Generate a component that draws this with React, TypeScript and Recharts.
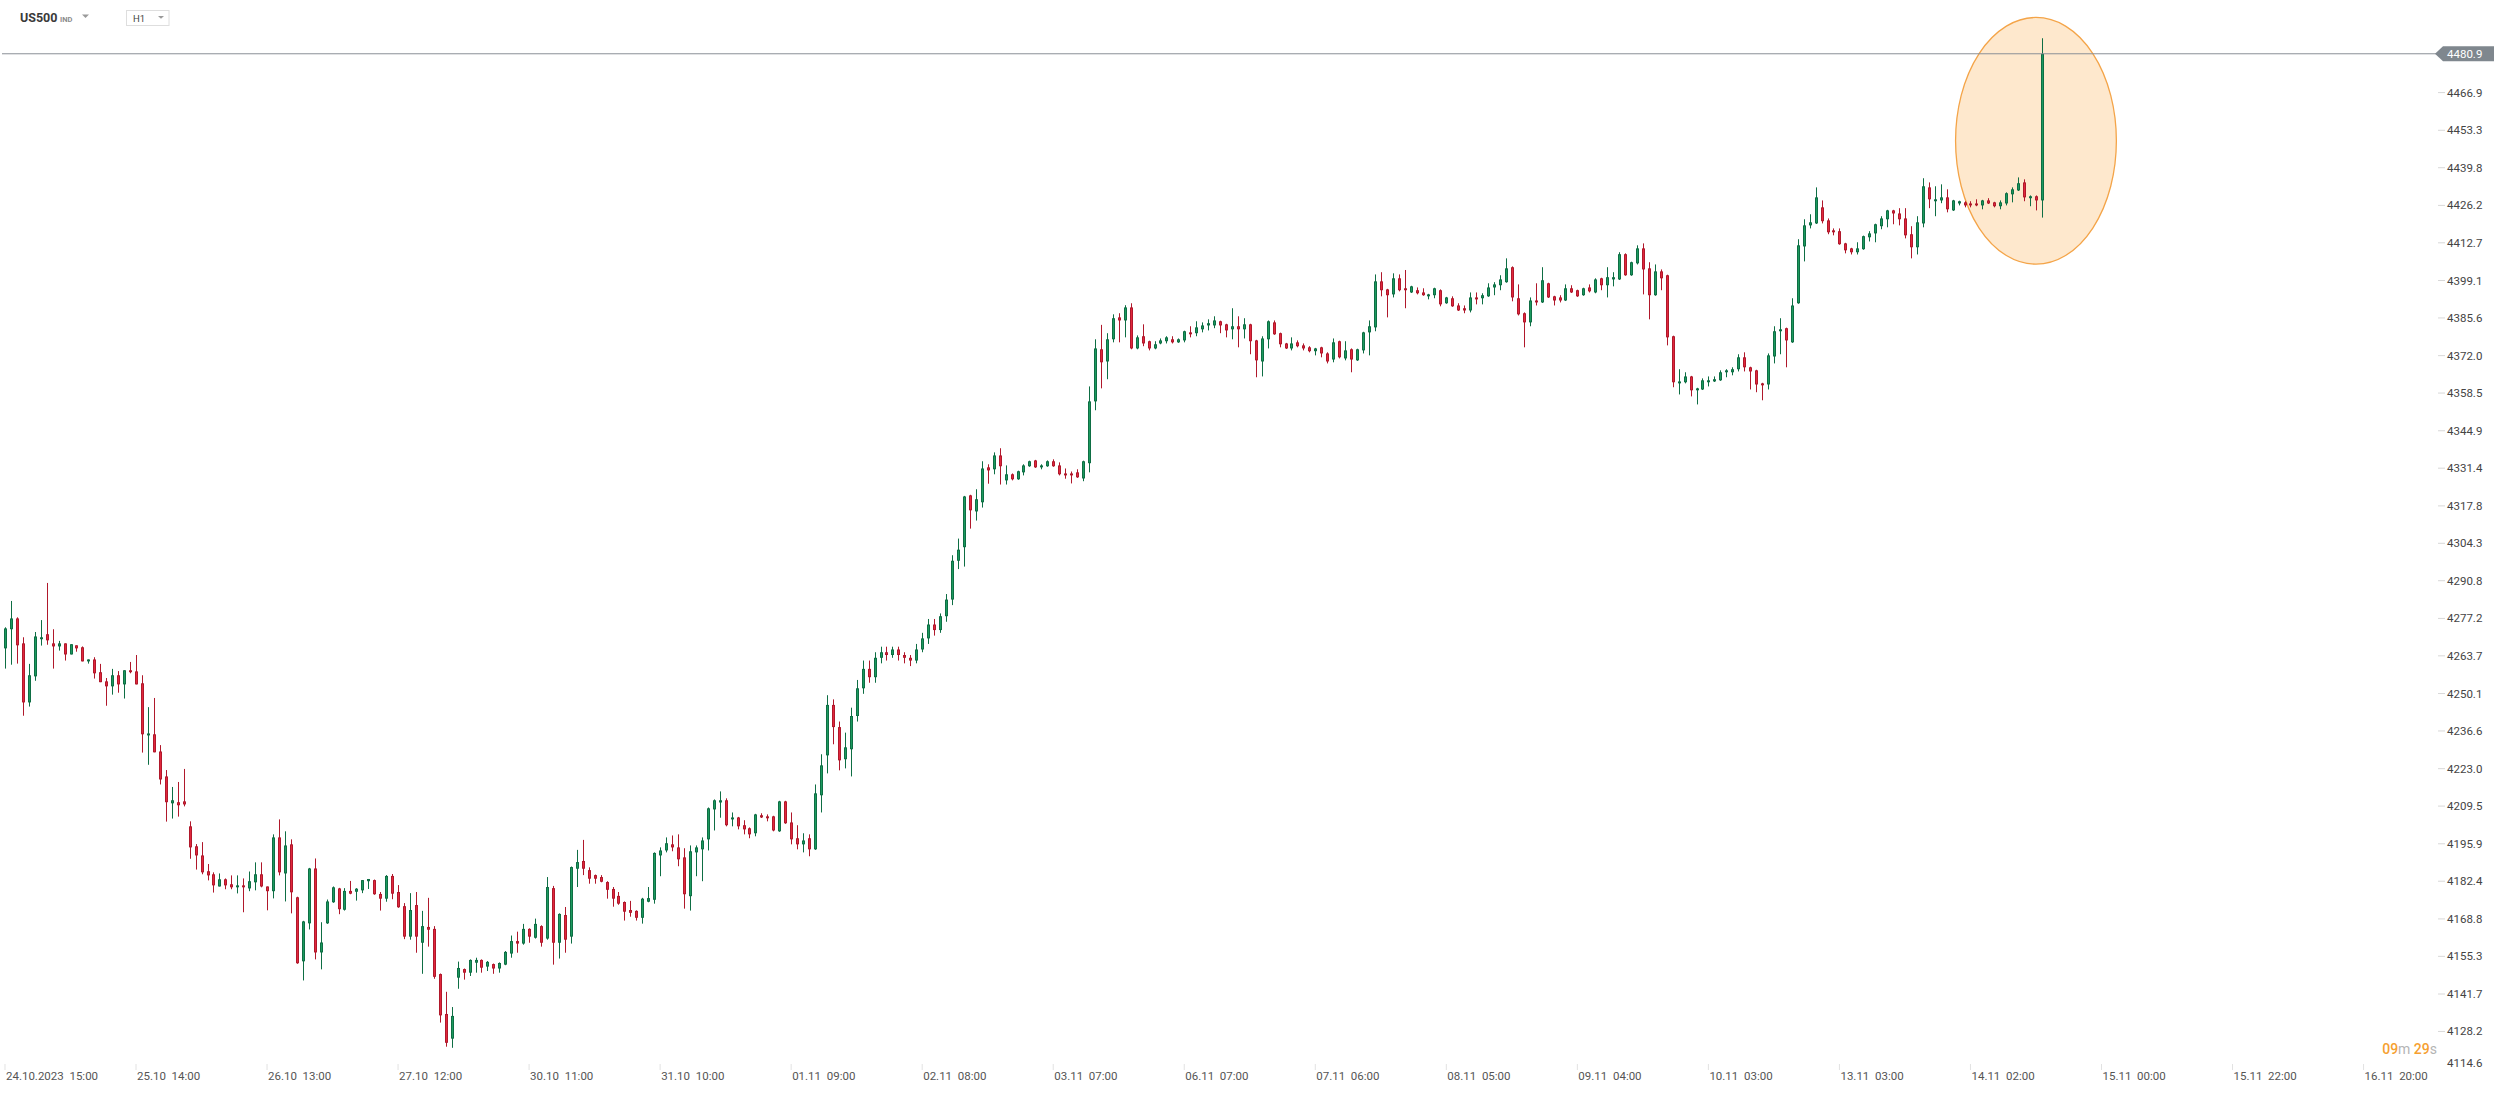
import React from 'react';
import { ComposedChart, Bar, XAxis, YAxis, ReferenceLine, ReferenceArea } from 'recharts';

const opens = [
  4266.4, 4273.3, 4277.2, 4268.2, 4246.9, 4256.3, 4269.7, 4271.5, 4268.2, 4267.1,
  4268.2, 4264.2, 4267.5, 4266.8, 4261.7, 4262.4, 4257.8, 4254.5, 4252.7, 4256.7,
  4253.4, 4258.5, 4258.1, 4253.8, 4235.0, 4235.4, 4229.2, 4220.2, 4210.5, 4210.9,
  4211.2, 4202.2, 4195.0, 4191.7, 4186.0, 4184.9, 4180.5, 4183.1, 4181.3, 4180.2,
  4180.9, 4179.8, 4182.0, 4184.9, 4180.5, 4178.8, 4198.2, 4185.2, 4195.7, 4176.6,
  4153.5, 4167.2, 4187.0, 4156.7, 4167.2, 4174.8, 4179.8, 4172.1, 4178.9, 4178.6,
  4179.1, 4182.4, 4182.8, 4177.8, 4176.1, 4184.3, 4178.5, 4173.4, 4162.4, 4173.8,
  4160.2, 4165.9, 4165.2, 4148.9, 4134.5, 4125.6, 4147.6, 4150.7, 4149.4, 4153.0,
  4154.0, 4151.6, 4152.5, 4150.9, 4152.3, 4156.3, 4160.8, 4159.9, 4165.2, 4162.0,
  4166.2, 4161.7, 4179.9, 4160.2, 4170.2, 4162.4, 4186.9, 4189.7, 4186.4, 4184.6,
  4183.9, 4182.1, 4179.6, 4177.1, 4174.9, 4172.0, 4171.7, 4169.2, 4175.0, 4175.7,
  4191.7, 4193.5, 4195.7, 4194.6, 4191.0, 4177.0, 4192.8, 4193.9, 4197.5, 4208.3,
  4210.8, 4211.6, 4204.7, 4205.4, 4202.6, 4201.5, 4199.7, 4206.2, 4205.8, 4205.8,
  4200.4, 4211.2, 4203.6, 4197.9, 4195.7, 4197.9, 4193.9, 4213.4, 4227.8, 4246.0,
  4238.0, 4226.4, 4230.0, 4242.0, 4252.0, 4259.0, 4256.0, 4263.0, 4265.0, 4264.0,
  4266.0, 4264.0, 4263.0, 4262.0, 4266.0, 4270.0, 4275.0, 4273.0, 4278.0, 4284.0,
  4298.0, 4302.9, 4321.6, 4315.8, 4319.1, 4331.7, 4331.0, 4336.0, 4327.0, 4329.2,
  4327.4, 4329.9, 4332.1, 4334.2, 4331.7, 4332.1, 4333.9, 4332.4, 4329.5, 4329.5,
  4329.9, 4327.7, 4333.2, 4355.5, 4374.3, 4369.9, 4377.9, 4385.8, 4384.7, 4389.4,
  4374.6, 4379.0, 4377.2, 4374.6, 4376.4, 4377.2, 4377.9, 4376.8, 4377.5, 4380.4,
  4380.1, 4381.5, 4382.9, 4382.9, 4384.4, 4383.3, 4381.5, 4382.6, 4381.5, 4383.3,
  4377.5, 4369.9, 4377.9, 4384.0, 4380.1, 4376.4, 4374.6, 4376.8, 4375.7, 4375.0,
  4373.6, 4375.0, 4372.8, 4370.6, 4377.2, 4371.0, 4374.3, 4370.3, 4373.9, 4380.4,
  4382.2, 4398.8, 4395.9, 4394.1, 4399.9, 4396.3, 4394.8, 4395.6, 4394.8, 4393.4,
  4393.8, 4395.6, 4390.9, 4392.7, 4390.1, 4389.1, 4388.3, 4393.0, 4392.7, 4393.4,
  4396.6, 4397.4, 4398.5, 4403.9, 4392.7, 4387.3, 4384.0, 4391.9, 4391.2, 4398.1,
  4393.4, 4393.0, 4391.9, 4396.3, 4395.6, 4393.8, 4396.6, 4394.8, 4399.9, 4397.4,
  4399.5, 4399.5, 4408.6, 4401.0, 4405.3, 4410.7, 4403.5, 4393.8, 4402.4, 4401.0,
  4379.0, 4362.0, 4362.4, 4364.5, 4359.5, 4359.8, 4362.4, 4362.7, 4363.1, 4366.0,
  4366.0, 4367.1, 4371.4, 4367.8, 4366.7, 4362.0, 4361.6, 4371.7, 4380.8, 4381.9,
  4376.8, 4390.9, 4411.4, 4419.0, 4419.7, 4425.5, 4420.8, 4417.2, 4416.9, 4412.5,
  4410.7, 4409.3, 4410.4, 4414.7, 4416.1, 4418.7, 4421.2, 4424.4, 4423.3, 4421.5,
  4415.8, 4411.1, 4419.7, 4432.7, 4427.7, 4428.0, 4429.1, 4424.4, 4426.9, 4427.3,
  4426.9, 4426.9, 4426.2, 4428.0, 4427.3, 4425.9, 4426.9, 4430.2, 4431.6, 4434.5,
  4428.8, 4429.5, 4428.0,
];

const highs = [
  4274.0, 4283.5, 4277.6, 4270.4, 4260.8, 4272.3, 4276.6, 4290.0, 4273.3, 4269.1,
  4268.2, 4267.9, 4267.5, 4267.1, 4262.4, 4263.2, 4260.8, 4255.7, 4259.0, 4258.2,
  4258.5, 4261.5, 4264.0, 4256.7, 4245.2, 4248.5, 4231.5, 4222.5, 4216.4, 4218.2,
  4222.9, 4204.0, 4195.8, 4196.5, 4188.6, 4185.6, 4185.2, 4183.4, 4184.5, 4184.5,
  4183.4, 4185.9, 4189.2, 4189.2, 4180.5, 4199.3, 4204.7, 4200.4, 4197.5, 4176.8,
  4168.1, 4187.2, 4190.6, 4167.6, 4175.8, 4180.5, 4180.0, 4179.9, 4182.5, 4179.9,
  4182.8, 4183.2, 4183.0, 4178.5, 4184.6, 4185.0, 4181.0, 4174.5, 4178.1, 4178.5,
  4171.7, 4176.4, 4166.2, 4149.1, 4142.5, 4137.0, 4153.4, 4150.9, 4154.2, 4154.8,
  4154.2, 4153.6, 4152.7, 4153.1, 4157.2, 4162.8, 4164.2, 4167.0, 4165.4, 4168.9,
  4166.5, 4183.9, 4180.7, 4170.8, 4173.1, 4187.7, 4193.7, 4197.3, 4187.4, 4184.8,
  4184.6, 4182.4, 4180.3, 4178.5, 4175.1, 4175.3, 4171.9, 4176.4, 4180.3, 4192.8,
  4194.6, 4198.2, 4198.9, 4199.3, 4194.3, 4195.3, 4195.3, 4198.2, 4209.0, 4211.9,
  4214.8, 4212.3, 4207.2, 4205.6, 4204.4, 4201.8, 4206.7, 4206.9, 4206.5, 4206.0,
  4211.4, 4211.4, 4207.2, 4202.6, 4199.7, 4199.3, 4217.3, 4228.2, 4249.5, 4248.0,
  4240.0, 4236.0, 4245.0, 4255.0, 4262.0, 4262.0, 4265.0, 4267.0, 4267.0, 4267.0,
  4267.0, 4265.0, 4264.0, 4268.0, 4272.0, 4277.0, 4277.0, 4279.0, 4286.0, 4300.0,
  4306.0, 4321.4, 4321.8, 4323.8, 4333.9, 4332.8, 4337.1, 4338.6, 4332.4, 4329.5,
  4330.5, 4332.8, 4334.1, 4334.4, 4332.8, 4334.2, 4334.6, 4333.5, 4331.3, 4330.2,
  4331.0, 4334.1, 4360.9, 4377.9, 4383.1, 4380.1, 4386.9, 4387.3, 4390.2, 4390.9,
  4379.3, 4383.3, 4377.4, 4377.2, 4378.2, 4379.0, 4379.0, 4378.2, 4381.0, 4382.6,
  4384.4, 4384.0, 4385.1, 4386.2, 4384.6, 4383.5, 4389.1, 4386.2, 4385.5, 4383.5,
  4377.7, 4379.0, 4384.7, 4384.7, 4380.3, 4376.6, 4378.6, 4377.5, 4376.4, 4375.4,
  4374.8, 4375.2, 4373.2, 4378.2, 4377.4, 4377.2, 4374.6, 4374.5, 4380.6, 4384.7,
  4401.3, 4402.1, 4396.1, 4401.7, 4401.3, 4402.9, 4397.2, 4396.6, 4396.3, 4394.3,
  4396.5, 4395.9, 4393.2, 4393.4, 4390.9, 4390.1, 4394.8, 4394.8, 4394.5, 4398.1,
  4398.5, 4401.0, 4407.1, 4404.2, 4397.7, 4387.6, 4393.0, 4398.1, 4403.9, 4398.3,
  4393.6, 4393.8, 4397.7, 4397.4, 4395.8, 4396.5, 4397.7, 4399.9, 4400.1, 4403.9,
  4402.1, 4409.3, 4408.9, 4405.9, 4411.8, 4412.5, 4405.7, 4404.9, 4403.1, 4401.2,
  4379.2, 4367.1, 4366.0, 4364.7, 4360.4, 4363.8, 4364.5, 4364.5, 4366.7, 4367.1,
  4367.8, 4372.5, 4373.2, 4368.0, 4366.9, 4362.2, 4372.8, 4382.6, 4385.5, 4382.1,
  4392.7, 4414.0, 4421.2, 4423.0, 4432.7, 4428.0, 4421.5, 4417.9, 4417.9, 4412.7,
  4410.9, 4412.9, 4415.3, 4416.9, 4419.6, 4422.3, 4424.6, 4424.6, 4425.2, 4425.2,
  4418.7, 4422.3, 4436.0, 4434.5, 4433.1, 4433.8, 4432.0, 4428.2, 4427.9, 4427.7,
  4427.7, 4428.4, 4428.2, 4428.8, 4427.5, 4428.0, 4430.9, 4432.7, 4436.3, 4435.6,
  4429.8, 4429.8, 4486.5,
];

const lows = [
  4259.1, 4260.5, 4260.9, 4242.1, 4245.4, 4254.7, 4267.4, 4267.7, 4259.1, 4265.6,
  4262.0, 4264.2, 4265.2, 4261.7, 4260.9, 4255.5, 4254.2, 4245.7, 4249.7, 4250.4,
  4248.3, 4257.4, 4253.4, 4228.8, 4224.4, 4228.9, 4217.3, 4203.9, 4205.0, 4205.7,
  4209.4, 4190.5, 4186.6, 4184.9, 4182.7, 4178.3, 4180.5, 4179.5, 4179.5, 4178.0,
  4171.2, 4178.8, 4179.1, 4180.2, 4171.9, 4176.2, 4184.5, 4175.1, 4170.8, 4152.6,
  4146.6, 4165.0, 4154.2, 4150.6, 4167.0, 4174.6, 4170.5, 4171.8, 4177.7, 4175.4,
  4178.1, 4179.6, 4177.5, 4171.8, 4175.0, 4175.9, 4172.8, 4161.5, 4161.3, 4156.6,
  4149.0, 4158.8, 4147.2, 4131.4, 4122.7, 4122.3, 4143.6, 4146.9, 4148.2, 4149.4,
  4149.4, 4150.0, 4149.0, 4149.4, 4152.1, 4154.8, 4156.6, 4159.5, 4160.2, 4161.7,
  4158.8, 4161.3, 4152.3, 4154.5, 4156.6, 4159.9, 4180.3, 4184.6, 4181.5, 4181.5,
  4182.0, 4176.1, 4173.2, 4173.9, 4168.2, 4169.6, 4168.2, 4167.1, 4174.8, 4174.3,
  4184.2, 4192.8, 4193.2, 4187.8, 4172.5, 4171.8, 4184.2, 4182.4, 4193.5, 4200.7,
  4205.3, 4202.2, 4202.2, 4201.1, 4199.3, 4197.9, 4198.6, 4205.2, 4204.0, 4200.4,
  4200.2, 4203.1, 4195.7, 4193.9, 4192.8, 4191.4, 4193.7, 4207.2, 4221.3, 4231.8,
  4222.4, 4223.1, 4220.2, 4240.0, 4250.0, 4254.0, 4254.0, 4261.0, 4262.0, 4263.0,
  4262.0, 4261.0, 4260.0, 4261.0, 4265.0, 4268.0, 4271.0, 4272.0, 4276.0, 4282.0,
  4295.0, 4295.9, 4309.6, 4312.5, 4317.2, 4325.8, 4329.2, 4325.5, 4325.5, 4327.0,
  4327.2, 4328.8, 4331.9, 4331.5, 4331.0, 4331.9, 4331.9, 4328.8, 4327.6, 4325.9,
  4327.9, 4326.7, 4329.9, 4352.3, 4360.2, 4363.5, 4376.8, 4376.8, 4378.6, 4374.3,
  4374.3, 4375.4, 4373.9, 4374.3, 4376.1, 4376.4, 4376.4, 4376.6, 4376.8, 4378.6,
  4379.0, 4380.4, 4381.1, 4381.9, 4380.1, 4378.6, 4377.9, 4375.0, 4378.2, 4372.5,
  4364.2, 4364.5, 4374.6, 4379.5, 4375.0, 4374.4, 4373.9, 4375.0, 4373.9, 4373.2,
  4372.1, 4371.4, 4369.2, 4369.6, 4371.0, 4370.3, 4366.0, 4370.1, 4372.8, 4372.1,
  4380.8, 4393.4, 4385.8, 4393.0, 4395.2, 4389.1, 4394.6, 4394.1, 4393.6, 4392.3,
  4392.7, 4389.8, 4390.7, 4389.6, 4388.1, 4387.3, 4387.6, 4390.5, 4390.5, 4393.2,
  4393.8, 4395.6, 4398.3, 4391.6, 4386.5, 4375.0, 4382.6, 4390.1, 4391.0, 4392.8,
  4390.1, 4391.2, 4391.7, 4394.6, 4393.2, 4393.6, 4394.8, 4394.5, 4395.6, 4393.0,
  4397.0, 4399.3, 4400.8, 4400.8, 4404.9, 4394.1, 4385.1, 4393.6, 4395.6, 4375.7,
  4360.6, 4358.0, 4362.0, 4357.3, 4354.4, 4359.6, 4360.9, 4362.5, 4362.9, 4364.2,
  4364.9, 4366.3, 4366.3, 4359.8, 4358.8, 4355.9, 4359.8, 4369.2, 4372.5, 4367.8,
  4376.6, 4390.7, 4406.0, 4417.9, 4419.5, 4419.7, 4415.8, 4415.4, 4412.0, 4408.9,
  4408.5, 4408.5, 4410.2, 4413.2, 4412.9, 4417.6, 4418.3, 4419.4, 4419.0, 4414.3,
  4407.1, 4408.5, 4418.3, 4425.2, 4422.3, 4427.0, 4423.7, 4424.2, 4426.2, 4425.5,
  4425.5, 4425.9, 4424.8, 4426.7, 4425.5, 4424.8, 4426.2, 4427.3, 4431.4, 4427.7,
  4425.9, 4424.4, 4421.8,
];

const closes = [
  4273.6, 4277.2, 4267.5, 4246.9, 4256.7, 4270.7, 4270.4, 4269.3, 4267.1, 4268.2,
  4264.2, 4267.9, 4266.4, 4261.7, 4262.4, 4257.4, 4254.2, 4252.7, 4256.7, 4253.4,
  4258.5, 4257.8, 4253.4, 4235.4, 4235.7, 4228.9, 4219.1, 4210.9, 4211.6, 4209.8,
  4210.1, 4194.6, 4191.7, 4185.6, 4184.5, 4180.9, 4183.1, 4180.9, 4180.2, 4180.9,
  4180.2, 4182.4, 4184.9, 4180.5, 4178.8, 4198.2, 4185.6, 4195.3, 4178.4, 4152.8,
  4167.9, 4187.0, 4156.7, 4160.3, 4175.1, 4180.2, 4172.3, 4178.9, 4177.9, 4179.7,
  4182.8, 4183.2, 4177.7, 4176.1, 4184.3, 4177.9, 4173.0, 4162.4, 4172.0, 4162.4,
  4166.2, 4164.9, 4147.9, 4134.0, 4124.1, 4133.8, 4151.1, 4149.4, 4154.0, 4154.0,
  4151.2, 4153.3, 4150.9, 4152.9, 4156.9, 4160.8, 4159.9, 4165.2, 4162.4, 4167.0,
  4160.2, 4180.3, 4160.2, 4170.6, 4161.3, 4187.5, 4189.3, 4186.9, 4183.3, 4183.3,
  4182.2, 4179.3, 4176.1, 4174.3, 4171.4, 4171.0, 4169.2, 4176.1, 4176.3, 4192.6,
  4193.5, 4196.1, 4194.6, 4190.3, 4177.7, 4193.2, 4194.6, 4197.1, 4208.7, 4211.6,
  4211.6, 4202.6, 4205.4, 4202.2, 4201.1, 4199.3, 4206.5, 4205.4, 4205.1, 4200.7,
  4211.2, 4203.3, 4197.5, 4195.7, 4197.1, 4193.9, 4214.1, 4224.2, 4246.0, 4238.0,
  4226.0, 4230.7, 4242.0, 4252.0, 4259.0, 4256.0, 4263.0, 4265.0, 4264.0, 4266.0,
  4264.0, 4263.0, 4262.0, 4266.0, 4270.0, 4275.0, 4273.0, 4278.0, 4284.0, 4298.0,
  4302.0, 4321.2, 4316.2, 4320.2, 4331.3, 4330.6, 4336.0, 4332.1, 4329.2, 4327.4,
  4330.3, 4332.4, 4333.9, 4331.7, 4332.4, 4333.9, 4332.1, 4329.2, 4328.8, 4328.8,
  4328.1, 4333.9, 4355.5, 4374.6, 4369.6, 4377.9, 4385.5, 4384.7, 4389.4, 4374.6,
  4378.6, 4376.4, 4374.6, 4376.1, 4377.5, 4378.6, 4376.8, 4377.9, 4380.8, 4379.7,
  4382.2, 4382.9, 4383.7, 4384.7, 4382.9, 4381.1, 4382.6, 4381.5, 4383.3, 4377.2,
  4370.3, 4378.2, 4384.4, 4379.7, 4376.1, 4374.6, 4376.4, 4375.4, 4374.6, 4373.6,
  4374.6, 4372.8, 4369.9, 4376.8, 4371.4, 4373.9, 4370.6, 4374.3, 4380.4, 4382.6,
  4398.8, 4395.6, 4393.8, 4399.9, 4395.6, 4395.6, 4397.0, 4394.5, 4393.8, 4394.1,
  4396.3, 4390.5, 4393.0, 4389.8, 4388.3, 4388.3, 4393.0, 4392.3, 4393.8, 4396.6,
  4397.7, 4399.5, 4403.5, 4393.0, 4386.9, 4384.0, 4391.9, 4391.2, 4399.2, 4393.0,
  4391.9, 4391.9, 4396.3, 4394.8, 4393.4, 4396.3, 4395.2, 4399.5, 4397.4, 4400.3,
  4400.3, 4408.6, 4401.0, 4405.7, 4410.7, 4403.1, 4393.8, 4402.4, 4399.9, 4378.6,
  4362.4, 4362.7, 4364.5, 4359.5, 4360.2, 4363.1, 4363.1, 4363.5, 4366.0, 4366.7,
  4367.1, 4371.4, 4367.8, 4366.3, 4361.6, 4361.3, 4372.1, 4380.8, 4381.5, 4377.5,
  4390.1, 4411.8, 4419.0, 4420.1, 4429.1, 4420.5, 4416.5, 4416.5, 4412.2, 4410.0,
  4409.3, 4410.7, 4415.1, 4416.1, 4419.4, 4421.5, 4424.4, 4423.3, 4421.2, 4415.4,
  4411.1, 4420.1, 4433.1, 4428.4, 4428.4, 4429.1, 4424.8, 4428.0, 4427.7, 4426.2,
  4426.2, 4426.2, 4428.0, 4426.9, 4425.9, 4427.3, 4430.6, 4432.0, 4434.2, 4429.1,
  4429.5, 4428.0, 4480.9,
];

const xTickLabels = [
  '24.10.2023 15:00', '25.10 14:00', '26.10 13:00', '27.10 12:00', '30.10 11:00',
  '31.10 10:00', '01.11 09:00', '02.11 08:00', '03.11 07:00', '06.11 07:00',
  '07.11 06:00', '08.11 05:00', '09.11 04:00', '10.11 03:00', '13.11 03:00',
  '14.11 02:00', '15.11 00:00', '15.11 22:00', '16.11 20:00',
];
const xTickIndices = [0, 22, 44, 66, 88, 110, 132, 154, 176, 198, 220, 242, 264, 286, 308, 330, 352, 374, 396];

const yTicks = [
  4466.9, 4453.3, 4439.8, 4426.2, 4412.7, 4399.1, 4385.6, 4372.0, 4358.5, 4344.9,
  4331.4, 4317.8, 4304.3, 4290.8, 4277.2, 4263.7, 4250.1, 4236.6, 4223.0, 4209.5,
  4195.9, 4182.4, 4168.8, 4155.3, 4141.7, 4128.2, 4114.6,
];

const lastPrice = 4480.9;
const yDomain = [4117.9, 4500.3];
const totalSlots = 409;
const highlight = { x1: 328, x2: 354, y1: 4405, y2: 4494 };

const UP_FILL = '#1c9a5f';
const UP_EDGE = '#0e6e44';
const DN_FILL = '#e1283d';
const DN_EDGE = '#b0182b';

const data = Array.from({ length: totalSlots }, (_, i) =>
  i < opens.length
    ? { i, o: opens[i], h: highs[i], l: lows[i], c: closes[i] }
    : { i, o: null, h: null, l: null, c: null }
);

const Candle = (props: any) => {
  const { x, y, width, height, payload } = props;
  if (!payload || payload.o == null || x == null || y == null) return <g />;
  const { o, h, l, c } = payload;
  const top = Math.min(y, y + height);
  const span = Math.abs(height);
  const ratio = h === l ? 0 : span / (h - l);
  const up = c >= o;
  const edge = up ? UP_EDGE : DN_EDGE;
  const fill = up ? UP_FILL : DN_FILL;
  const left = Math.round(x + width / 2) - 1;
  const yO = top + (h - o) * ratio;
  const yC = top + (h - c) * ratio;
  const bTop = Math.min(yO, yC);
  const bH = Math.max(Math.abs(yO - yC), 1.5);
  return (
    <g>
      <line x1={left + 1.5} x2={left + 1.5} y1={top} y2={top + span} stroke={edge} strokeWidth={1} />
      <rect x={left} y={bTop} width={3} height={bH} fill={edge} />
      {bH > 2.5 && <rect x={left + 1} y={bTop + 1} width={1} height={bH - 2} fill={fill} />}
    </g>
  );
};

const XTick = (props: any) => {
  const { x, y, payload } = props;
  const idx = xTickIndices.indexOf(payload.value);
  if (idx < 0) return <g />;
  const label = xTickLabels[idx].replace(' ', '\u00a0\u00a0');
  return (
    <g>
      <line x1={x} x2={x} y1={y + 4} y2={y + 10} stroke="#e2e2e2" strokeWidth={1} />
      <text x={x + 1} y={y + 20} textAnchor="start" fill="#555" fontSize={11.5} fontFamily="Roboto, sans-serif">
        {label}
      </text>
    </g>
  );
};

const YTick = (props: any) => {
  const { x, y, payload } = props;
  const clamped = y > 1063;
  const yy = clamped ? 1063 : y;
  return (
    <g>
      {!clamped && <line x1={x - 9} x2={x - 2} y1={y} y2={y} stroke="#d8d8d8" strokeWidth={1} />}
      <text x={x} y={yy + 4} textAnchor="start" fill="#444" fontSize={11.5} fontFamily="Roboto, sans-serif">
        {Number(payload.value).toFixed(1)}
      </text>
    </g>
  );
};

const PriceTag = (props: any) => {
  const vb = props.viewBox || {};
  const right = (vb.x || 0) + (vb.width || 0);
  const yy = vb.y || 0;
  const pts = `${right - 3},${yy} ${right + 5},${yy - 7.5} ${right + 56},${yy - 7.5} ${right + 56},${yy + 7.5} ${right + 5},${yy + 7.5}`;
  return (
    <g>
      <polygon points={pts} fill="#7f878e" />
      <text x={right + 9} y={yy + 4} fill="#ffffff" fontSize={11.5} fontFamily="Roboto, sans-serif">
        {lastPrice.toFixed(1)}
      </text>
    </g>
  );
};

const Ellipse = (props: any) => {
  const { x, y, width, height } = props;
  if (x == null) return <g />;
  return (
    <ellipse
      cx={x + width / 2}
      cy={y + height / 2}
      rx={Math.abs(width) / 2}
      ry={Math.abs(height) / 2}
      fill="rgb(250,170,70)"
      fillOpacity={0.27}
      stroke="#f4a448"
      strokeWidth={1.3}
    />
  );
};

export default function App() {
  return (
    <div style={{ position: 'absolute', left: 0, top: 0, width: 2506, height: 1093, background: '#fff' }}>
      <ComposedChart
        width={2506}
        height={1093}
        data={data}
        margin={{ top: 0, right: 0, bottom: 0, left: 2 }}
        barCategoryGap={1}
      >
        <XAxis
          dataKey="i"
          type="category"
          ticks={xTickIndices}
          interval={0}
          height={33}
          axisLine={false}
          tickLine={false}
          tickSize={0}
          tickMargin={0}
          tick={<XTick />}
        />
        <YAxis
          orientation="right"
          width={68}
          domain={yDomain}
          allowDataOverflow
          ticks={yTicks}
          interval={0}
          axisLine={false}
          tickLine={false}
          tickSize={7}
          tickMargin={2}
          tick={<YTick />}
        />
        <Bar
          dataKey={(d: any) => (d.o == null ? null : [d.l, d.h])}
          shape={<Candle />}
          isAnimationActive={false}
        />
        <ReferenceLine y={lastPrice} stroke="#8a9096" strokeWidth={1} label={<PriceTag />} />
        <ReferenceArea
          x1={highlight.x1}
          x2={highlight.x2}
          y1={highlight.y1}
          y2={highlight.y2}
          shape={<Ellipse />}
          ifOverflow="visible"
        />
      </ComposedChart>
      <svg width={2506} height={1093} style={{ position: 'absolute', left: 0, top: 0, pointerEvents: 'none' }}>
        <text x={20} y={22} fontSize={12.5} fontWeight={700} fill="#3a3a3a" fontFamily="Roboto, sans-serif">US500</text>
        <text x={60} y={21.7} fontSize={7.5} fontWeight={700} fill="#8c8c8c" fontFamily="Roboto, sans-serif">IND</text>
        <polygon points="82,14.5 89,14.5 85.5,18" fill="#9a9a9a" />
        <rect x={126.5} y={10.5} width={42.5} height={15} fill="#fff" stroke="#dedede" strokeWidth={1} />
        <text x={133} y={22} fontSize={9.5} fill="#444" fontFamily="Roboto, sans-serif">H1</text>
        <polygon points="158,16 164,16 161,18.8" fill="#9a9a9a" />
        <text x={2437} y={1054} textAnchor="end" fontSize={14} fontFamily="Roboto, sans-serif">
          <tspan fill="#f6a030" fontWeight={500}>09</tspan>
          <tspan fill="#b4b4b4">m </tspan>
          <tspan fill="#f6a030" fontWeight={500}>29</tspan>
          <tspan fill="#b4b4b4">s</tspan>
        </text>
      </svg>
    </div>
  );
}
